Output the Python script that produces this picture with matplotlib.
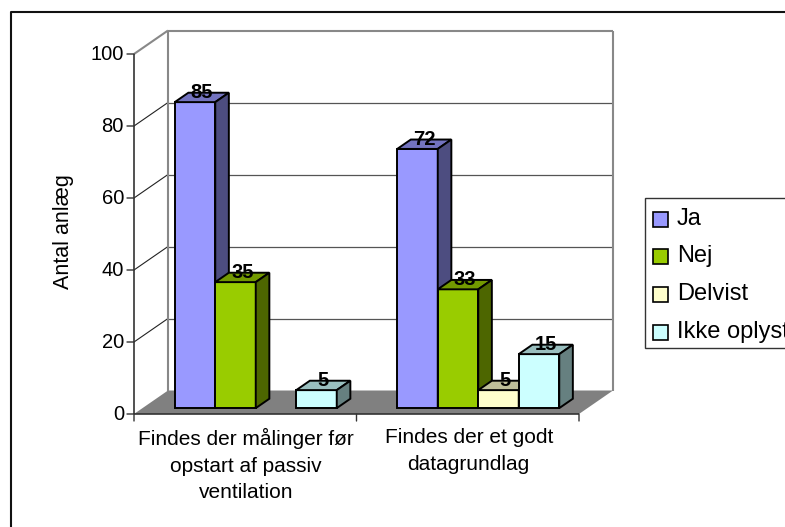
import matplotlib
matplotlib.use("Agg")
import matplotlib.pyplot as plt
from matplotlib.lines import Line2D
from matplotlib.patches import Polygon, Rectangle

plt.rcParams['font.family'] = ['Liberation Sans', 'DejaVu Sans']

categories = ["Findes der målinger før\nopstart af passiv\nventilation",
              "Findes der et godt\ndatagrundlag"]
series_names = ["Ja", "Nej", "Delvist", "Ikke oplyst"]
ja = [85, 72]
nej = [35, 33]
delvist = [0, 5]
ikke_oplyst = [5, 15]
y_ticks = [0, 20, 40, 60, 80, 100]

front_colors = ["#9999ff", "#99cc00", "#ffffcc", "#ccffff"]
top_colors = ["#7373bf", "#739900", "#bfbf99", "#99bfbf"]
side_colors = ["#4d4d80", "#4d6600", "#80806a", "#668080"]

W, H = 785, 527
fig = plt.figure(figsize=(W / 100, H / 100), dpi=100)

# axes sits on the front plane of the 3d box
L, R, T, B = 134, 579, 54, 414
ax = fig.add_axes([L / W, 1 - B / H, (R - L) / W, (B - T) / H])
ax.set_xlim(0, 2)
ax.set_ylim(0, 100)
ax.axis("off")

# depth of the box in data units
DX = 34 / ((R - L) / 2)
DY = 23.5 / ((B - T) / 100)
bar_w = 40.5 / ((R - L) / 2)


def pt(x, y, d=0.0):
    return (x + d * DX, y + d * DY)


def poly(points, **kw):
    p = Polygon(points, closed=True, clip_on=False, **kw)
    ax.add_patch(p)
    return p


def line(p1, p2, color, lw=1.0, z=2):
    ax.plot([p1[0], p2[0]], [p1[1], p2[1]], color=color, lw=lw, zorder=z,
            clip_on=False, solid_capstyle="butt")


# outer frame, only top and left edges are inside the image
fig.add_artist(Line2D([11 / W, 11 / W, 1], [0, 1 - 12 / H, 1 - 12 / H],
                      transform=fig.transFigure, color="#111111", lw=1.5))

# floor
poly([pt(0, 0), pt(2, 0), pt(2, 0, 1), pt(0, 0, 1)], facecolor="#808080",
     edgecolor="none", zorder=1)

# walls and gridlines
for v in y_ticks[1:]:
    line(pt(0, v), pt(0, v, 1), "#222222" if v < 100 else "#888888", 0.8 if v < 100 else 1.5)
    line(pt(0, v, 1), pt(2, v, 1), "#555555" if v < 100 else "#888888", 0.9 if v < 100 else 1.5)
line(pt(0, 0, 1), pt(0, 100, 1), "#888888", 1.5)
line(pt(2, 0, 1), pt(2, 100, 1), "#888888", 1.5)
line(pt(0, 0), pt(0, 100), "#333333", 1.2, z=3)
line(pt(0, 0), pt(2, 0), "#333333", 1.2, z=3)

# ticks and tick labels
for v in y_ticks:
    ax.annotate(str(v), xy=pt(0, v), xytext=(-10, 0), textcoords="offset pixels",
                ha="right", va="center", fontsize=14.5, color="black", annotation_clip=False)
    ax.annotate("", xy=pt(0, v), xytext=(-7, 0), textcoords="offset pixels",
                arrowprops=dict(arrowstyle="-", color="#333333", lw=1, shrinkA=0, shrinkB=0))
for x in range(3):
    ax.annotate("", xy=pt(x, 0), xytext=(0, -7), textcoords="offset pixels",
                arrowprops=dict(arrowstyle="-", color="#333333", lw=1, shrinkA=0, shrinkB=0))
for i, cat in enumerate(categories):
    ax.annotate(cat, xy=pt(i + 0.5, 0), xytext=(1, -14), textcoords="offset pixels",
                ha="center", va="top", fontsize=15, linespacing=1.5, annotation_clip=False)

ax.annotate("Antal anlæg", xy=pt(0, 50), xytext=(-71, 2), textcoords="offset pixels",
            rotation=90, ha="center", va="center", fontsize=15.5, annotation_clip=False)

# bars only share edges so drawing order inside a group is simple
all_values = [ja, nej, delvist, ikke_oplyst]
D0, D1 = 0.25, 0.65
for s in range(4):
    for c in range(2):
        v = all_values[s][c]
        if v == 0:
            continue
        x0 = c + 0.5 + (s - 2) * bar_w + 2 / ((R - L) / 2)
        x1 = x0 + bar_w
        z = 5 + s * 0.1
        style = dict(edgecolor="black", lw=1.4, joinstyle="miter", zorder=z)
        poly([pt(x0, 0, D0), pt(x1, 0, D0), pt(x1, v, D0), pt(x0, v, D0)],
             facecolor=front_colors[s], **style)
        poly([pt(x0, v, D0), pt(x1, v, D0), pt(x1, v, D1), pt(x0, v, D1)],
             facecolor=top_colors[s], **style)
        poly([pt(x1, 0, D0), pt(x1, 0, D1), pt(x1, v, D1), pt(x1, v, D0)],
             facecolor=side_colors[s], **style)
        lx = pt(x0 + bar_w / 2, v, (D0 + D1) / 2)[0]
        ly = pt(x0, v, D1)[1]
        ax.annotate(str(v), xy=(lx, ly), ha="center", va="center", fontsize=14.5,
                    fontweight="bold", zorder=20, annotation_clip=False)

# legend box runs off the right edge
fig.add_artist(Rectangle((645 / W, 1 - 348 / H), (W + 10 - 645) / W, 150 / H,
                         transform=fig.transFigure, facecolor="white",
                         edgecolor="#333333", lw=1.0))
legend_y = [219, 256, 294, 332]
for name, col, py in zip(series_names, front_colors, legend_y):
    fig.add_artist(Rectangle((653 / W, 1 - (py + 7.5) / H), 15 / W, 15 / H,
                             transform=fig.transFigure, facecolor=col,
                             edgecolor="black", lw=1.2))
    fig.text(677 / W, 1 - py / H, name, ha="left", va="center", fontsize=17)

fig.savefig("out.png", dpi=100)
